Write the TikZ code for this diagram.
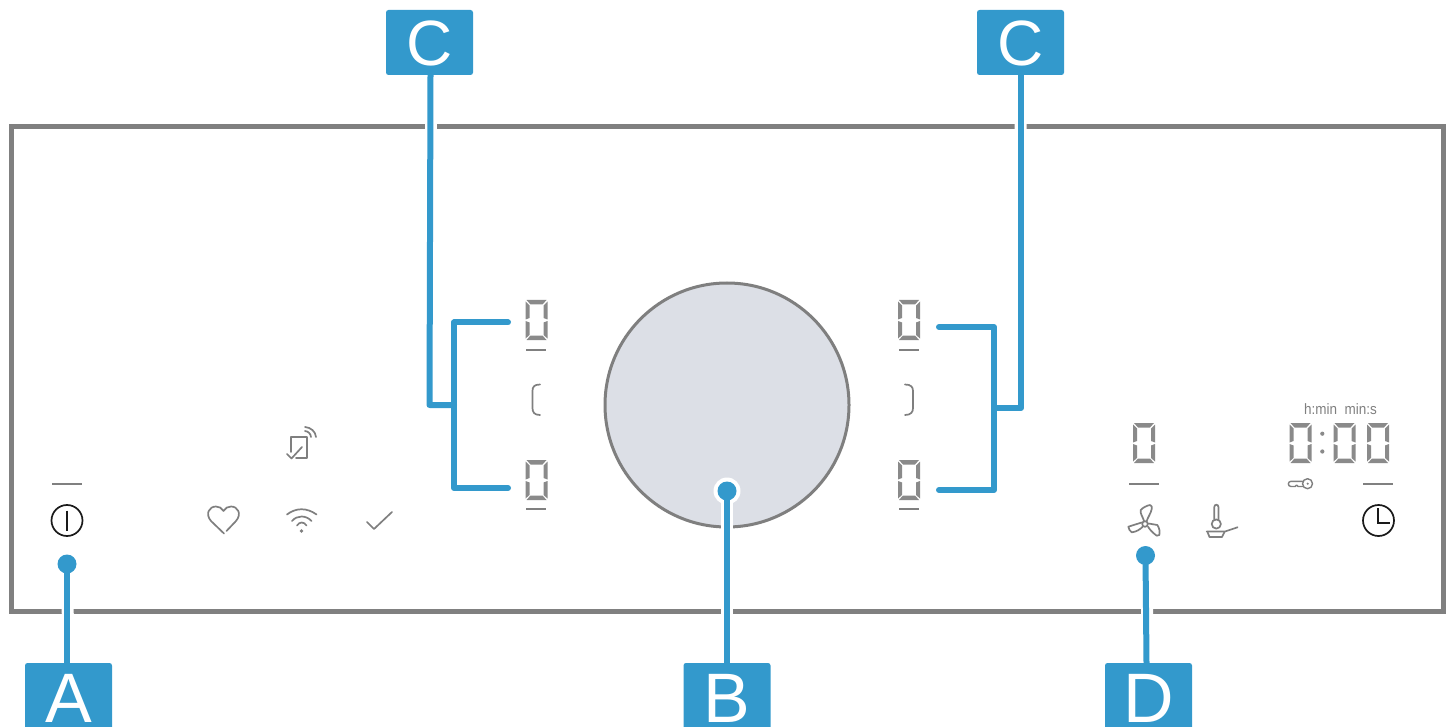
\documentclass[tikz,border=0pt]{standalone}
\usepackage{fontspec}
\setmainfont{Liberation Sans}
\usepackage{xcolor}
\usetikzlibrary{arrows.meta}

\definecolor{leadercolor}{HTML}{3399CC}
\definecolor{framecolor}{HTML}{808080}
\definecolor{knobcolor}{HTML}{DCDFE6}
\definecolor{segcolor}{HTML}{8A8A8A}
\definecolor{iconcolor}{HTML}{7F7F7F}
\definecolor{blackicon}{HTML}{1A1A1A}

\tikzset{
    callout/.style={fill=leadercolor, text=white, rounded corners=2.5pt, inner sep=0pt,
        minimum width=87pt, minimum height=65pt, text height=46pt, text depth=0pt,
        font=\fontsize{64}{64}\selectfont},
    bottomcallout/.style={callout, minimum height=68pt, text height=50pt,
        font=\fontsize{70}{70}\selectfont},
    leader/.style={draw=leadercolor, line width=6pt, line cap=round, line join=round},
    halo/.style={draw=white, line width=12pt, line join=round},
    icon/.style={draw=iconcolor, line width=1.7pt, line cap=round, line join=round},
    darkicon/.style={draw=blackicon, line width=1.7pt},
    softkey/.style={draw=framecolor, line width=2pt},
    digit/.pic={
        \fill[segcolor] (1,0) -- (21,0) -- (17,4.5) -- (5,4.5) -- cycle;
        \fill[segcolor] (1,40) -- (21,40) -- (17,35.5) -- (5,35.5) -- cycle;
        \fill[segcolor] (0,1.5) -- (4,5.5) -- (4,18) -- (0,19.5) -- cycle;
        \fill[segcolor] (0,21) -- (4,22.5) -- (4,35) -- (0,38.5) -- cycle;
        \fill[segcolor] (22,1.5) -- (18,5.5) -- (18,18) -- (22,19.5) -- cycle;
        \fill[segcolor] (22,21) -- (18,22.5) -- (18,35) -- (22,38.5) -- cycle;
    }
}

\begin{document}
\begin{tikzpicture}[x=1pt, y=-1pt]
    \useasboundingbox (0,0) rectangle (1451,727);

    % Panel and knob
    \draw[framecolor, line width=5pt] (11.5,126.5) rectangle (1443,611.5);
    \draw[draw=iconcolor, fill=knobcolor, line width=3pt] (727,405) circle (122);

    % Digits
    \foreach \xd/\yd in {525.5/300, 525.5/460, 898/300, 898/460, 1133/423, 1289.5/423, 1333.5/423, 1367/423}
        \pic at (\xd,\yd) {digit};
    \foreach \xa/\xb/\yl in {526/546/349.5, 526/546/509, 899/919/350, 899/919/509}
        \draw[softkey] (\xa,\yl) -- (\xb,\yl);
    \foreach \xa/\xb in {52/82, 1129/1159, 1363/1393}
        \draw[softkey] (\xa,483.5) -- (\xb,483.5);
    \fill[segcolor] (1322.3,433.7) circle (2.1) (1322.3,451.5) circle (2.1);

    % Brackets
    \draw[icon] (540,384.5) .. controls (534,384.5) and (532.5,387) .. (532.5,391) -- (532.5,408)
        .. controls (532.5,412) and (534,415) .. (540,415);
    \draw[icon] (905,384.5) .. controls (911,384.5) and (913,387) .. (913,391) -- (913,408)
        .. controls (913,412) and (911,415) .. (905,415);

    % Black touch keys
    \draw[darkicon] (67,520.5) circle (15.5);
    \draw[darkicon] (67,510.5) -- (67,530.5);
    \draw[darkicon] (1378.5,520.5) circle (15.5);
    \draw[darkicon] (1378,508) -- (1378,523) -- (1390,523);

    % Tablet
    \draw[icon] (291,452) -- (291,437) -- (307,437) -- (307,458) -- (296,458);
    \draw[icon] (287,454) -- (291.5,458.5) -- (302,447);
    \draw[icon] (305,431) .. controls (308.5,431.5) and (310.5,433.5) .. (311,437);
    \draw[icon] (305,427) .. controls (311,427.5) and (315.5,431.5) .. (316,437);

    % Heart
    \draw[icon] (224,533.5) -- (211,521) .. controls (205,514) and (209,506.5) .. (216,506.5)
        .. controls (219,506.5) and (222,508) .. (223.5,511)
        .. controls (225,508) and (228,506.5) .. (231,506.5)
        .. controls (238,506.5) and (242,514) .. (236,521) -- (226.5,531);

    % Wifi
    \draw[icon] (287,514.5) .. controls (296,507.5) and (307,507.5) .. (316.5,514.5);
    \draw[icon] (292,521) .. controls (297,515) and (306,515) .. (311.5,521);
    \draw[icon] (297,525.5) .. controls (299.5,521.5) and (304,521.5) .. (306.5,525.5);
    \fill[iconcolor] (301.5,531) circle (1.8);

    % Check
    \draw[icon] (367,522) -- (374,529) -- (392,512);

    % Key
    \draw[icon, line width=1.4pt] (1307.5,483.7) circle (5);
    \draw[icon, line width=1.4pt] (1302.5,481.3) -- (1291,481.3) .. controls (1287.5,481.3) and (1287.5,486.5) .. (1291,486.5)
        -- (1295,486.5) -- (1296.5,485) -- (1298,486.5) -- (1302.5,486.5);
    \fill[iconcolor] (1307.7,483.7) circle (1.2);

    % Fan
    \draw[icon] (1144,521) .. controls (1143,517) and (1140,514) .. (1140.7,510)
        .. controls (1143,507.5) and (1147,505.5) .. (1150,505)
        .. controls (1152,505.5) and (1152,507) .. (1151.7,509)
        .. controls (1151,513) and (1148,517) .. (1146.7,521);
    \draw[icon] (1141.7,522.5) -- (1128.3,526.7) .. controls (1128.5,529) and (1130,531) .. (1131.7,532.3)
        .. controls (1136,532) and (1140,529.5) .. (1142.7,526.7);
    \draw[icon] (1148.5,523.5) -- (1157.3,525) .. controls (1159.5,528) and (1160,532) .. (1159.3,535)
        .. controls (1158.5,536) and (1157.5,536) .. (1156.7,535.7)
        .. controls (1153,533) and (1150,530) .. (1148,526.7);
    \draw[icon] (1145,524) circle (2.8);

    % Thermometer and pan
    \draw[icon] (1214.3,519.5) -- (1214.3,507) .. controls (1214.3,504) and (1218.4,504) .. (1218.4,507) -- (1218.4,519.5);
    \draw[icon] (1216.3,524) circle (4.6);
    \draw[icon] (1206.7,531.5) -- (1225,531.5) -- (1237.5,527.3);
    \draw[icon] (1207.5,532) -- (1209.5,537) -- (1222,537) -- (1224.5,532);

    % Timer caption
    \node[text=iconcolor, font=\fontsize{15}{15}\selectfont, xscale=0.9, inner sep=0pt] (timercaption) at (1340.5,409) {h:min\ \ min:s};

    % Callouts
    \node[callout] (labelCleft) at (429.5,42.5) {C};
    \node[callout] (labelCright) at (1020.5,42.5) {C};
    \node[bottomcallout] (labelA) at (68.5,697) {A};
    \node[bottomcallout] (labelB) at (727,697) {B};
    \node[bottomcallout] (labelD) at (1148.5,697) {D};

    % Leader ends
    \coordinate (dotA) at (67,564);
    \coordinate (dotB) at (727,491);
    \coordinate (dotD) at (1145.5,555.5);
    \coordinate (jointleft) at (454,405);
    \coordinate (jointright) at (994,408);
    \coordinate (topleft) at (508,322.5);
    \coordinate (bottomleft) at (508,488);
    \coordinate (topright) at (939,327);
    \coordinate (bottomright) at (939,490);

    % Halos where leaders cross the panel
    \draw[halo] ([xshift=1pt]labelCleft.south) -- (430.5,200);
    \draw[halo] (labelCright.south) -- (1021,200);
    \draw[halo] (labelA.north) -- (dotA);
    \draw[halo] (labelB.north) -- (dotB);
    \draw[halo] (labelD.north) -- (dotD);
    \fill[white] (dotB) circle (13.5);

    % Leaders
    \draw[leader] ([xshift=1pt]labelCleft.south) -- (429.5,405) -- (jointleft);
    \draw[leader] (topleft) -- (454,322.5) -- (454,488) -- (bottomleft);
    \draw[leader] ([xshift=0.5pt]labelCright.south) -- (1021,408) -- (jointright);
    \draw[leader] (topright) -- (994,327) -- (994,490) -- (bottomright);
    \draw[leader] ([xshift=-1.5pt]labelA.north) -- (dotA);
    \draw[leader] (labelB.north) -- (dotB);
    \draw[leader] ([xshift=-2pt]labelD.north) -- (dotD);
    \foreach \dotname in {dotA, dotB, dotD}
        \fill[leadercolor] (\dotname) circle (9.5);
\end{tikzpicture}
\end{document}
